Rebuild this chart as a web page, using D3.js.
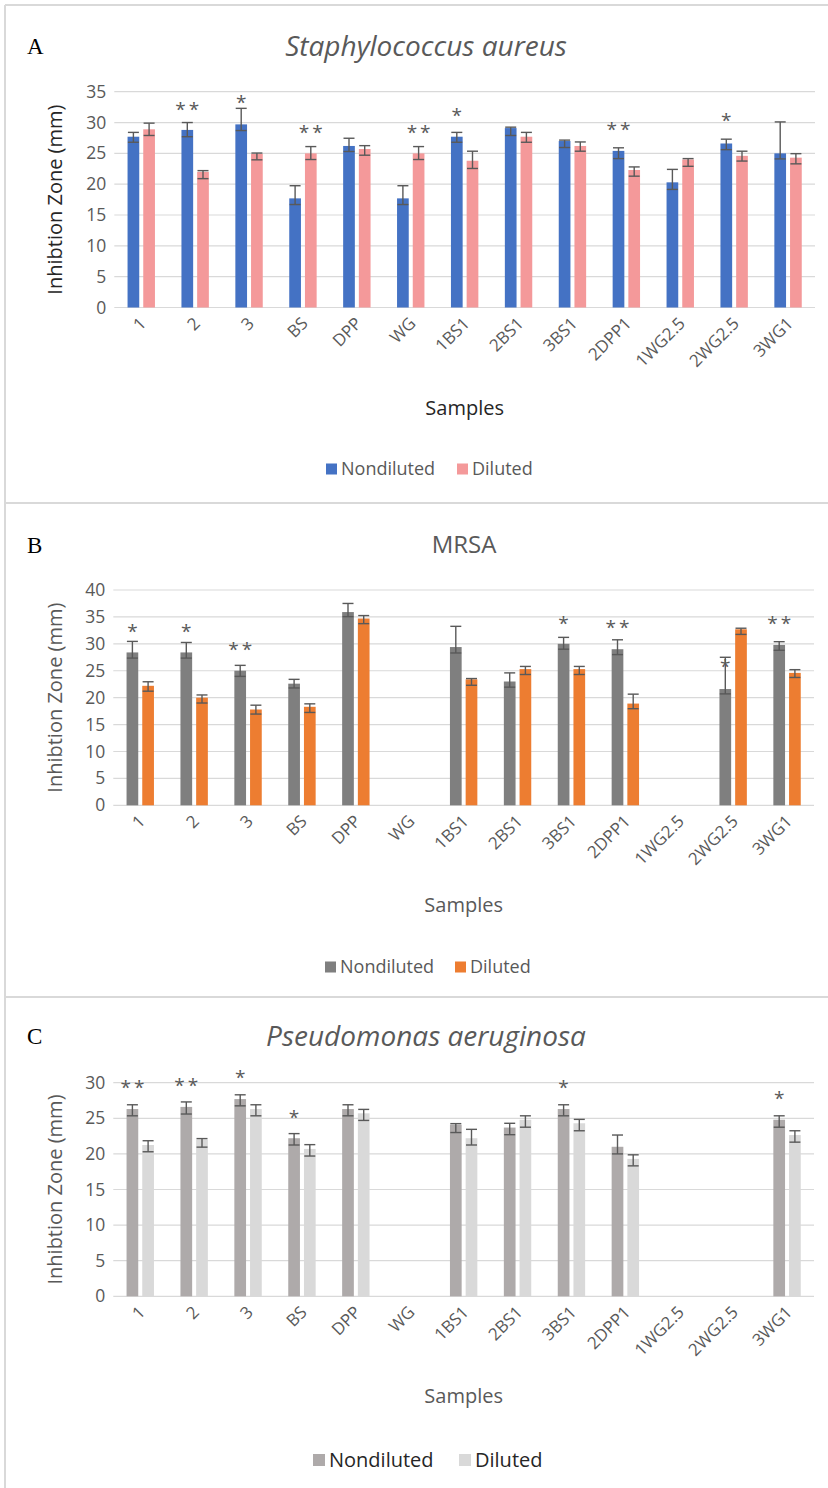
<!DOCTYPE html>
<html><head><meta charset="utf-8">
<script src="https://cdn.jsdelivr.net/npm/d3@7"></script>
<style>body{margin:0;background:#fff;} svg{display:block;font-family:"Open Sans",sans-serif;}</style>
</head><body><svg id="chart" width="828" height="1488"></svg>
<script>
// ---------- data ----------
const categories = ["1","2","3","BS","DPP","WG","1BS1","2BS1","3BS1","2DPP1","1WG2.5","2WG2.5","3WG1"];
const seriesNames = ["Nondiluted","Diluted"];

// Panel A: Staphylococcus aureus
const saTicks = [0,5,10,15,20,25,30,35];
const saNondiluted      = [27.7, 28.8, 29.7, 17.7, 26.2, 17.7, 27.7, 29.1, 27.0, 25.4, 20.3, 26.6, 25.0];
const saNondilutedPlus  = [0.7, 1.2, 2.6, 2.05, 1.25, 2.05, 0.7, 0.15, 0.15, 0.5, 2.1, 0.7, 5.1];
const saNondilutedMinus = [0.9, 1.1, 1.0, 1.0, 0.9, 1.0, 0.9, 1.2, 1.05, 1.25, 1.15, 1.0, 0.9];
const saDiluted         = [28.9, 22.0, 24.9, 25.0, 25.7, 25.0, 23.8, 27.7, 26.2, 22.3, 24.0, 24.6, 24.3];
const saDilutedPlus     = [1.0, 0.2, 0.15, 1.1, 0.55, 1.1, 1.55, 0.7, 0.65, 0.5, 0.15, 0.75, 0.65];
const saDilutedMinus    = [1.0, 1.1, 0.95, 1.0, 1.0, 1.0, 1.25, 0.9, 0.85, 1.0, 1.1, 0.85, 1.0];
const saSigLabels = ["", "**", "*", "**", "", "**", "*", "", "", "**", "", "*", ""];
const saSigLevels = [null, 32.9, 33.9, 29.1, null, 29.1, 31.8, null, null, 29.6, null, 31.1, null];
const saSigSeries = [0, 0, 0, 1, 0, 1, 0, 0, 0, 0, 0, 0, 0];

// Panel B: MRSA
const mrTicks = [0,5,10,15,20,25,30,35,40];
const mrNondiluted      = [28.4, 28.4, 25.0, 22.6, 35.9, null, 29.4, 23.0, 30.0, 29.0, null, 21.6, 29.8];
const mrNondilutedPlus  = [2.05, 1.85, 1.0, 0.8, 1.6, null, 3.85, 1.6, 1.2, 1.75, null, 5.9, 0.6];
const mrNondilutedMinus = [1.05, 1.05, 1.05, 0.8, 0.85, null, 1.1, 1.05, 1.0, 1.0, null, 0.9, 1.0];
const mrDiluted         = [22.2, 20.0, 17.8, 18.3, 34.7, null, 23.4, 25.3, 25.3, 18.9, null, 32.7, 24.6];
const mrDilutedPlus     = [0.75, 0.5, 0.8, 0.55, 0.55, null, 0.15, 0.5, 0.5, 1.75, null, 0.2, 0.6];
const mrDilutedMinus    = [1.0, 1.0, 0.85, 1.05, 0.95, null, 1.1, 1.0, 1.0, 0.95, null, 0.95, 0.85];
const mrSigLabels = ["*", "*", "**", "", "", "", "", "", "*", "**", "", "*", "**"];
const mrSigLevels = [33.1, 33.1, 29.8, null, null, null, null, null, 34.7, 33.8, null, 26.7, 34.55];
const mrSigSeries = [0, 0, 0, 0, 0, 0, 0, 0, 0, 0, 0, 0, 0];

// Panel C: Pseudomonas aeruginosa
const paTicks = [0,5,10,15,20,25,30];
const paNondiluted      = [26.3, 26.6, 27.7, 22.2, 26.3, null, 24.1, 23.7, 26.3, 21.0, null, null, 24.8];
const paNondilutedPlus  = [0.6, 0.7, 0.6, 0.65, 0.6, null, 0.15, 0.6, 0.6, 1.65, null, null, 0.55];
const paNondilutedMinus = [0.95, 1.0, 0.95, 0.95, 0.95, null, 1.1, 1.0, 0.95, 1.0, null, null, 1.05];
const paDiluted         = [21.25, 22.0, 26.3, 20.7, 25.7, null, 22.2, 24.8, 24.3, 19.3, null, null, 22.65];
const paDilutedPlus     = [0.6, 0.15, 0.6, 0.6, 0.55, null, 1.25, 0.55, 0.55, 0.57, null, null, 0.6];
const paDilutedMinus    = [0.95, 1.05, 0.95, 1.0, 1.0, null, 0.95, 1.05, 1.05, 0.98, null, null, 1.0];
const paSigLabels = ["**", "**", "*", "*", "", "", "", "", "*", "", "", "", "*"];
const paSigLevels = [29.9, 30.3, 31.3, 25.8, null, null, null, null, 29.9, null, null, null, 28.4];
const paSigSeries = [0, 0, 0, 0, 0, 0, 0, 0, 0, 0, 0, 0, 0];

// ---------- drawing ----------
const svg = d3.select("#chart");
const FONT = "'Open Sans', sans-serif";

// panel frames
const frame = svg.append("g").attr("stroke", "#D9D9D9").attr("stroke-width", 2).attr("fill", "none");
frame.append("line").attr("x1", 5).attr("x2", 5).attr("y1", 5).attr("y2", 1488);
frame.append("line").attr("x1", 5).attr("x2", 828).attr("y1", 5).attr("y2", 5);
frame.append("line").attr("x1", 5).attr("x2", 828).attr("y1", 503).attr("y2", 503);
frame.append("line").attr("x1", 5).attr("x2", 828).attr("y1", 997).attr("y2", 997);

function drawPanel(p) {
  const g = svg.append("g");
  const x = d3.scaleBand().domain(categories).range([p.left, p.right]).paddingInner(0).paddingOuter(0);
  const y = d3.scaleLinear().domain([0, d3.max(p.ticks)]).range([p.bottom, p.top]);
  const bw = x.bandwidth();
  const xs = d3.scaleBand().domain([0, 1]).range([bw / 2 - 13.7, bw / 2 + 13.7]).paddingInner(0.255);

  // gridlines
  g.append("g").selectAll("line").data(p.ticks).join("line")
    .attr("x1", p.left).attr("x2", p.right)
    .attr("y1", d => y(d)).attr("y2", d => y(d))
    .attr("stroke", "#D9D9D9").attr("stroke-width", 1.2);

  // y axis
  const ya = g.append("g").attr("transform", `translate(${p.left},0)`)
    .call(d3.axisLeft(y).tickValues(p.ticks).tickSize(0).tickPadding(8));
  ya.select(".domain").remove();
  ya.selectAll("text").attr("font-family", FONT).attr("font-size", 17.5).attr("fill", "#595959");

  // x axis labels
  const xa = g.append("g").attr("transform", `translate(0,${p.bottom})`)
    .call(d3.axisBottom(x).tickSize(0).tickPadding(0));
  xa.select(".domain").remove();
  xa.selectAll("text")
    .attr("font-family", FONT).attr("font-size", 17).attr("fill", "#595959")
    .attr("text-anchor", "end").attr("dy", 0).attr("y", 0)
    .attr("transform", "translate(6,17) rotate(-45)");

  // bars + error bars
  p.series.forEach((s, si) => {
    const rows = categories.map((c, i) => ({ c, v: s.values[i], plus: s.plus[i], minus: s.minus[i] }))
      .filter(d => d.v != null);
    const sg = g.append("g");
    sg.selectAll("rect").data(rows).join("rect")
      .attr("x", d => x(d.c) + xs(si))
      .attr("width", xs.bandwidth())
      .attr("y", d => y(d.v))
      .attr("height", d => y(0) - y(d.v))
      .attr("fill", p.colors[si]);
    const eg = sg.append("g").attr("stroke", "#595959").attr("stroke-width", 1.4);
    rows.forEach(d => {
      const cx = x(d.c) + xs(si) + xs.bandwidth() / 2;
      const y1 = y(d.v + d.plus), y2 = y(d.v - d.minus);
      eg.append("line").attr("x1", cx).attr("x2", cx).attr("y1", y1).attr("y2", y2);
      eg.append("line").attr("x1", cx - 5.5).attr("x2", cx + 5.5).attr("y1", y1).attr("y2", y1);
      eg.append("line").attr("x1", cx - 5.5).attr("x2", cx + 5.5).attr("y1", y2).attr("y2", y2);
    });
  });

  // significance marks
  const sig = categories.map((c, i) => ({ c, label: p.sigLabels[i], lvl: p.sigLevels[i], s: p.sigSeries[i] }))
    .filter(d => d.label);
  g.append("g").selectAll("text").data(sig).join("text")
    .attr("x", d => x(d.c) + xs(d.s) + xs.bandwidth() / 2 + (d.label.length > 1 ? 1.5 : 0))
    .attr("y", d => y(d.lvl) + 11)
    .attr("text-anchor", "middle")
    .attr("font-family", FONT).attr("font-size", 19).attr("fill", "#595959")
    .attr("letter-spacing", d => d.label.length > 1 ? 3 : 0)
    .text(d => d.label);

  // titles
  g.append("text").attr("x", 27).attr("y", p.titleY + 8)
    .attr("font-family", "'Liberation Serif', serif").attr("font-size", 23).attr("fill", "#000")
    .text(p.letter);
  g.append("text").attr("x", p.titleX).attr("y", p.titleY).attr("dy", "0.35em")
    .attr("text-anchor", "middle").attr("font-family", FONT).attr("font-size", p.titleSize)
    .attr("font-style", p.italic ? "italic" : "normal").attr("fill", "#595959")
    .text(p.title);

  // axis titles
  g.append("text").attr("transform", `translate(55,${(p.top + p.bottom) / 2}) rotate(-90)`)
    .attr("text-anchor", "middle").attr("dy", "0.35em")
    .attr("font-family", FONT).attr("font-size", 20).attr("fill", p.axisTitleColor)
    .text("Inhibtion Zone (mm)");
  g.append("text").attr("x", (p.left + p.right) / 2).attr("y", p.bottom + 100).attr("dy", "0.35em")
    .attr("text-anchor", "middle").attr("font-family", FONT).attr("font-size", 20).attr("fill", p.axisTitleColor)
    .text("Samples");

  // legend
  const lg = g.append("g").attr("transform", `translate(0,${p.bottom + p.legendOffset})`);
  seriesNames.forEach((n, i) => {
    lg.append("rect").attr("x", p.legendX[i]).attr("y", -p.legendSq / 2)
      .attr("width", p.legendSq).attr("height", p.legendSq).attr("fill", p.colors[i]);
    lg.append("text").attr("x", p.legendX[i] + p.legendSq + 4).attr("y", 0).attr("dy", "0.35em")
      .attr("font-family", FONT).attr("font-size", p.legendFont).attr("fill", p.legendColor)
      .text(n);
  });
}

drawPanel({
  letter: "A", title: "Staphylococcus aureus", italic: true, titleX: 426, titleY: 46, titleSize: 28,
  top: 91.7, bottom: 307.5, left: 114.3, right: 815, ticks: saTicks,
  colors: ["#4472C4", "#F4999A"],
  series: [
    { values: saNondiluted, plus: saNondilutedPlus, minus: saNondilutedMinus },
    { values: saDiluted, plus: saDilutedPlus, minus: saDilutedMinus }
  ],
  sigLabels: saSigLabels, sigLevels: saSigLevels, sigSeries: saSigSeries,
  axisTitleColor: "#262626", legendColor: "#595959", legendFont: 18, legendSq: 11,
  legendOffset: 161.5, legendX: [326, 457]
});

drawPanel({
  letter: "B", title: "MRSA", italic: false, titleX: 464, titleY: 545, titleSize: 24,
  top: 590, bottom: 805.3, left: 113.3, right: 814, ticks: mrTicks,
  colors: ["#7F7F7F", "#ED7D31"],
  series: [
    { values: mrNondiluted, plus: mrNondilutedPlus, minus: mrNondilutedMinus },
    { values: mrDiluted, plus: mrDilutedPlus, minus: mrDilutedMinus }
  ],
  sigLabels: mrSigLabels, sigLevels: mrSigLevels, sigSeries: mrSigSeries,
  axisTitleColor: "#595959", legendColor: "#595959", legendFont: 18, legendSq: 11,
  legendOffset: 161.7, legendX: [325, 455]
});

drawPanel({
  letter: "C", title: "Pseudomonas aeruginosa", italic: true, titleX: 426, titleY: 1036, titleSize: 28,
  top: 1082.7, bottom: 1296.3, left: 113.3, right: 814, ticks: paTicks,
  colors: ["#AEAAAA", "#D9D9D9"],
  series: [
    { values: paNondiluted, plus: paNondilutedPlus, minus: paNondilutedMinus },
    { values: paDiluted, plus: paDilutedPlus, minus: paDilutedMinus }
  ],
  sigLabels: paSigLabels, sigLevels: paSigLevels, sigSeries: paSigSeries,
  axisTitleColor: "#595959", legendColor: "#262626", legendFont: 20, legendSq: 12,
  legendOffset: 163.7, legendX: [313, 459]
});
</script>
</body></html>
